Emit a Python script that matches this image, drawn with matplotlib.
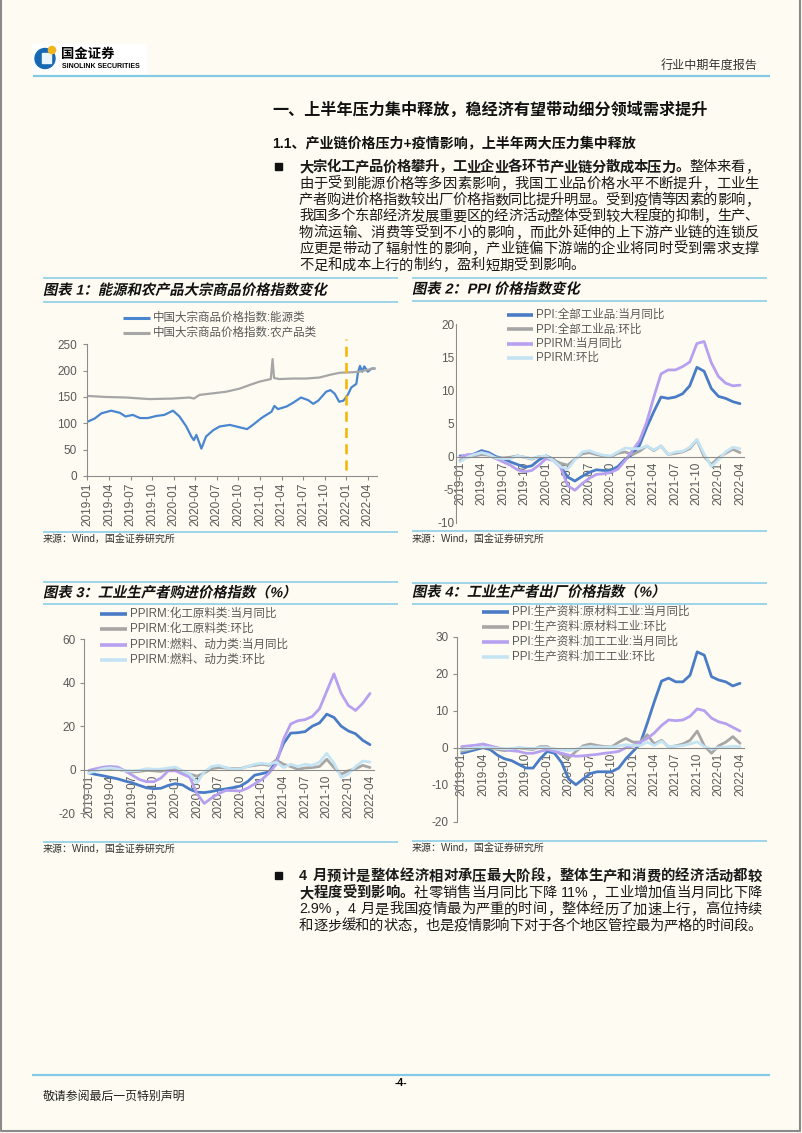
import matplotlib
matplotlib.use('Agg')
import numpy as np
import matplotlib.pyplot as plt
import matplotlib.patheffects as pe
from matplotlib.transforms import Affine2D
from matplotlib.patches import Rectangle, Circle

plt.rcParams['font.family'] = ['Liberation Sans', 'Noto Sans CJK SC', 'DejaVu Sans']
plt.rcParams['axes.unicode_minus'] = False

W, H = 802, 1133
PAGE = '#fefcf2'
RULE = '#84c9e6'
TICK = '#595959'
C_BLUE = '#4a7cc6'
C_GRAY = '#a6a6a6'
C_PURPLE = '#b7a0ef'
C_LBLUE = '#c4e4f4'
C_ORANGE = '#f4b400'

# ---------------- data ----------------
quarter_ticks = list(range(0, 40, 3))
quarter_labels = ['2019-01', '2019-04', '2019-07', '2019-10', '2020-01', '2020-04', '2020-07',
                  '2020-10', '2021-01', '2021-04', '2021-07', '2021-10', '2022-01', '2022-04']

# chart 1, x = months since 2019-01
energy_t = [0, 1.0, 1.95, 3.3, 4.5, 5.3, 6.3, 7.3, 8.4, 9.6, 10.7, 11.9, 12.8, 13.75, 14.45,
            14.8, 15.15, 15.85, 16.5, 17.5, 18.4, 19.8, 20.7, 21.6, 22.2, 23.1, 24.2, 25.0, 25.6,
            26.0, 26.5, 27.7, 28.6, 29.7, 30.7, 31.4, 32.1, 33.2, 33.8, 34.4, 35.0, 35.6, 36.2,
            36.7, 37.4, 37.6, 37.9, 38.2, 38.5, 39.0, 39.5, 39.9]
energy_v = [103, 109, 119, 124, 120, 113, 116, 110, 110, 114, 116, 124, 113, 94, 75,
            68, 78, 52, 75, 87, 94, 97, 94, 91, 89, 98, 110, 117, 122,
            133, 127, 132, 139, 149, 144, 137, 143, 160, 163, 156, 141, 143, 154,
            168, 175, 195, 209, 198, 208, 198, 204, 204]
agri_t = [0, 2.6, 5.4, 8.6, 11.9, 14.2, 14.8, 15.6, 17.5, 19.3, 21.2, 22.6, 23.9, 25.5, 25.75,
          25.95, 26.7, 28.6, 30.4, 32.3, 33.7, 35.1, 36.9, 37.8, 38.8, 39.9]
agri_v = [152, 150, 149, 146, 147, 149, 147, 154, 157, 160, 166, 173, 179, 184, 222,
          186, 184, 185, 185, 187, 192, 196, 197, 198, 201, 204]
cut_month = 36
cut_span = [11, 261]

months = np.arange(40)

# chart 2
ppi_yoy = [0.1, 0.1, 0.4, 0.9, 0.6, 0.0, -0.3, -0.8, -1.2, -1.6, -1.4, -0.5,
           0.1, -0.4, -1.5, -3.1, -3.7, -3.0, -2.4, -2.0, -2.1, -2.1, -1.5, -0.4,
           0.3, 1.7, 4.4, 6.8, 9.0, 8.8, 9.0, 9.5, 10.7, 13.5, 12.9, 10.3,
           9.1, 8.8, 8.3, 8.0]
ppi_mom = [-0.6, -0.1, 0.1, 0.3, 0.2, -0.3, -0.2, -0.1, 0.1, -0.1, -0.4, 0.0,
           0.0, -0.5, -1.0, -1.3, -0.4, 0.4, 0.6, 0.3, 0.1, 0.0, 0.5, 0.7,
           0.3, 0.8, 1.6, 0.9, 1.6, 0.3, 0.5, 0.7, 1.2, 2.5, 0.0, -1.2,
           -0.2, 0.5, 1.1, 0.6]
ppirm_yoy = [-0.1, 0.3, 0.3, 0.6, 0.4, -0.3, -0.8, -1.3, -2.0, -2.3, -2.1, -1.3,
             -0.3, -0.6, -1.6, -4.4, -5.1, -4.1, -3.3, -2.7, -2.6, -2.4, -1.9, -0.6,
             0.9, 2.4, 5.2, 9.0, 12.5, 13.1, 13.1, 13.6, 14.3, 17.1, 17.4, 14.2,
             12.1, 11.1, 10.7, 10.8]
ppirm_mom = [-0.8, -0.1, 0.3, 0.6, 0.3, -0.2, -0.3, -0.3, 0.1, -0.1, -0.3, 0.0,
             0.1, -0.6, -1.5, -1.9, -0.5, 0.7, 0.9, 0.5, 0.2, 0.1, 0.7, 1.3,
             1.2, 1.2, 1.6, 1.0, 1.6, 0.3, 0.7, 0.8, 1.4, 2.6, 0.4, -1.5,
             -0.5, 0.7, 1.4, 1.2]

# chart 3
chem_yoy = [-1.5, -2.2, -2.8, -3.5, -4.2, -5.2, -6.0, -7.2, -8.3, -8.7, -8.5, -7.2,
            -6.4, -7.0, -9.0, -10.3, -10.5, -10.0, -9.3, -8.8, -8.2, -7.5, -5.5, -2.5,
            -1.8, -1.0, 4.0, 12.0, 16.8, 17.0, 17.5, 20.0, 21.5, 25.5, 24.0, 20.0,
            17.8, 16.5, 13.5, 11.5]
chem_mom = [-0.5, -0.3, 0.3, 0.5, 0.2, -0.5, -1.0, -0.8, -0.3, -0.5, -0.8, 0.2,
            0.3, -1.0, -2.0, -3.0, -1.5, 0.5, 1.0, 0.8, 0.5, 0.5, 1.5, 2.0,
            2.5, 2.0, 4.5, 2.5, 1.5, 0.2, 0.8, 1.0, 1.5, 4.8, 1.0, -2.0,
            -0.5, 0.5, 2.0, 1.0]
fuel_yoy = [-0.3, 0.5, 1.2, 1.5, 1.2, -0.5, -2.5, -4.5, -5.5, -5.5, -3.8, -0.5,
            -0.5, -2.0, -3.5, -11.0, -15.5, -13.0, -11.0, -9.5, -9.6, -9.8, -8.5, -6.5,
            -4.5, -1.5, 2.5, 14.0, 21.0, 22.5, 23.0, 24.5, 28.0, 36.0, 44.0, 35.0,
            29.5, 27.2, 30.5, 35.0]
fuel_mom = [-1.5, -0.5, 0.5, 0.8, 0.3, -0.5, -0.5, -0.3, 0.5, 0.2, 0.3, 0.8,
            1.2, -0.5, -2.0, -6.0, -1.0, 1.5, 2.0, 1.0, 0.2, 0.3, 1.5, 2.5,
            3.0, 2.5, 3.5, 1.0, 2.5, 1.5, 2.5, 2.0, 3.5, 7.5, 3.0, -3.5,
            -2.0, 1.5, 4.0, 3.5]

# chart 4
raw_yoy = [-1.5, -1.0, -0.5, 0.0, -0.5, -2.0, -3.0, -3.5, -4.5, -5.5, -5.5, -3.0,
           -1.0, -1.5, -4.0, -8.5, -10.0, -8.5, -7.0, -6.5, -6.5, -6.5, -5.5, -3.0,
           -1.0, 1.0, 6.6, 12.5, 18.0, 18.8, 17.8, 17.8, 19.6, 25.9, 25.0, 19.2,
           18.3, 17.8, 16.7, 17.4]
raw_mom = [-1.0, -0.5, 0.0, 0.2, 0.0, -0.5, -0.8, -0.5, 0.0, -0.3, -0.5, 0.3,
           0.3, -0.8, -1.8, -2.8, -1.0, 0.5, 1.0, 0.6, 0.3, 0.2, 1.5, 2.5,
           1.5, 1.5, 3.5, 1.0, 2.0, 0.2, 0.5, 1.0, 2.0, 4.5, 0.5, -1.5,
           0.5, 1.5, 3.0, 1.2]
proc_yoy = [0.3, 0.5, 0.7, 1.0, 0.5, 0.0, -0.5, -0.8, -1.0, -1.5, -1.5, -1.0,
            -0.5, -1.0, -1.5, -2.0, -2.3, -2.2, -2.0, -1.8, -1.5, -1.3, -1.0, 0.0,
            0.5, 1.5, 2.5, 4.0, 6.0, 7.5, 7.3, 7.5, 8.5, 10.5, 10.0, 8.0,
            7.0, 6.5, 5.5, 4.5]
proc_mom = [-0.5, -0.3, 0.0, 0.1, 0.0, -0.2, -0.3, -0.2, 0.0, -0.1, -0.2, 0.0,
            0.0, -0.3, -0.6, -0.8, -0.4, 0.1, 0.3, 0.2, 0.1, 0.1, 0.5, 0.8,
            0.6, 0.6, 1.5, 0.6, 1.8, 0.3, 0.4, 0.6, 1.0, 1.6, 0.3, -0.4,
            0.0, 0.2, 0.4, 0.3]

# ---------------- page ----------------
fig = plt.figure(figsize=(W / 100, H / 100), dpi=100, facecolor=PAGE)
pg = fig.add_axes([0, 0, 1, 1])
pg.set_xlim(0, W)
pg.set_ylim(H, 0)
pg.axis('off')
renderer = fig.canvas.get_renderer()


class Slant(pe.AbstractPathEffect):
    # fake italic for CJK bold titles
    def draw_path(self, renderer, gc, tpath, affine, rgbFace=None):
        renderer.draw_path(gc, tpath, Affine2D().skew_deg(12, 0) + affine, rgbFace)


def rule(x0, x1, y, color=RULE, lw=1.1):
    pg.plot([x0, x1], [y, y], color=color, lw=lw, solid_capstyle='butt')


def para_line(x0, x1, y, segs, size=10.3, justify=True):
    em = size * 100 / 72
    toks = []
    for s, bold in segs:
        run = ''
        for ch in s:
            if ord(ch) < 128:
                run += ch
            else:
                if run:
                    toks.append((run, bold))
                    run = ''
                toks.append((ch, bold))
        if run:
            toks.append((run, bold))
    yb = y + 0.38 * em
    arts, widths = [], []
    for t, b in toks:
        a = pg.text(0, yb, t.strip(), fontsize=size, fontweight='bold' if b else 'normal',
                    va='baseline', ha='left', color='#1a1a1a')
        if ord(t[0]) >= 128:
            w = em  # full-width glyph advance
        else:
            w = a.get_window_extent(renderer).width + 0.1 * em
            lead = len(t) - len(t.lstrip())
            trail = len(t) - len(t.rstrip())
            w += 0.28 * em * (lead + trail)
            a._lead = 0.28 * em * lead
        arts.append(a)
        widths.append(w)
    gap = (x1 - x0 - sum(widths)) / (len(arts) - 1) if justify else 0
    x = x0
    for a, w in zip(arts, widths):
        a.set_x(x + getattr(a, '_lead', 0))
        x += w + gap


# page border
pg.plot([1, 1, W - 2, W - 2], [0, H - 2, H - 2, 0], color='#8a8a8a', lw=1.5)

# logo + header
pg.add_patch(Rectangle((32, 44), 114, 30, color='white', zorder=2))
pg.add_patch(Circle((45, 58.5), 10, color='#1768b3', zorder=3))
pg.add_patch(Rectangle((42, 53), 9, 10, color='#e9f4fb', zorder=4))
pg.add_patch(Circle((52, 50), 3.6, color='#f2b51c', zorder=5))
pg.text(61, 55, '国金证券', fontsize=9.6, fontweight='bold', va='center', zorder=6)
pg.text(62, 67, 'SINOLINK SECURITIES', fontsize=5.0, fontweight='bold', va='center', zorder=6)
pg.text(758, 66, '行业中期年度报告', fontsize=8.7, ha='right', va='center', color='#333333')
rule(33, 770, 76, lw=1.6)

# headings
pg.text(272, 110, '一、上半年压力集中释放，稳经济有望带动细分领域需求提升', fontsize=11.6,
        fontweight='bold', va='center', color='#111111')
pg.text(272, 144, '1.1、产业链价格压力+疫情影响，上半年两大压力集中释放', fontsize=10.1,
        fontweight='bold', va='center', color='#111111')

# paragraph 1
pg.add_patch(Rectangle((275, 162.5), 7, 7, color='#111111'))
p1 = [
    [('大宗化工产品价格攀升，工业企业各环节产业链分散成本压力。', True), ('整体来看，', False)],
    [('由于受到能源价格等多因素影响，我国工业品价格水平不断提升，工业生', False)],
    [('产者购进价格指数较出厂价格指数同比提升明显。受到疫情等因素的影响，', False)],
    [('我国多个东部经济发展重要区的经济活动整体受到较大程度的抑制，生产、', False)],
    [('物流运输、消费等受到不小的影响，而此外延伸的上下游产业链的连锁反', False)],
    [('应更是带动了辐射性的影响，产业链偏下游端的企业将同时受到需求支撑', False)],
    [('不足和成本上行的制约，盈利短期受到影响。', False)],
]
for i, segs in enumerate(p1):
    para_line(299, 759, 166 + i * 16.33, segs, justify=i < len(p1) - 1)

# paragraph 2
pg.add_patch(Rectangle((275, 871.5), 7, 7, color='#111111'))
p2 = [
    [('4 月预计是整体经济相对承压最大阶段，整体生产和消费的经济活动都较', True)],
    [('大程度受到影响。', True), ('社零销售当月同比下降 11%，工业增加值当月同比下降', False)],
    [('2.9%，4 月是我国疫情最为严重的时间，整体经历了加速上行，高位持续', False)],
    [('和逐步缓和的状态，也是疫情影响下对于各个地区管控最为严格的时间段。', False)],
]
for i, segs in enumerate(p2):
    para_line(299, 762, 875 + i * 16.5, segs)

# footer
rule(32, 770, 1075, lw=1.6)
pg.text(401, 1083, '-4-', fontsize=7.5, fontweight='bold', ha='center', va='center')
pg.text(43, 1097, '敬请参阅最后一页特别声明', fontsize=8.6, va='center', color='#222222')

# chart frames
for x0, x1, ytop, ytitle, ybot, ysrc, title in [
        (43, 398, 278, 301.5, 531.5, 540, '图表 1：能源和农产品大宗商品价格指数变化'),
        (412, 767, 278, 300.5, 530.5, 540, '图表 2：PPI 价格指数变化'),
        (43, 398, 582, 604, 841.5, 849.5, '图表 3：工业生产者购进价格指数（%）'),
        (412, 767, 582.5, 603.5, 840.5, 848.5, '图表 4：工业生产者出厂价格指数（%）')]:
    rule(x0, x1, ytop)
    rule(x0, x1, ytitle)
    rule(x0, x1, ybot)
    pg.text(x0, ytitle - 11, title, fontsize=10.3, fontweight='bold', va='center',
            color='#111111', path_effects=[Slant()])
    pg.text(x0, ysrc, '来源：Wind，国金证券研究所', fontsize=7.2, va='center', color='#333333')


def chart(x0, x1, y0, y1, xlim, ylim, yticks, ypad, ylen, zero_axis=True):
    ax = fig.add_axes([x0 / W, 1 - y1 / H, (x1 - x0) / W, (y1 - y0) / H])
    ax.set_facecolor('none')
    ax.set_xlim(*xlim)
    ax.set_ylim(*ylim)
    for s in ['top', 'right']:
        ax.spines[s].set_visible(False)
    for s in ['left', 'bottom']:
        ax.spines[s].set_color('#8c8c8c')
        ax.spines[s].set_linewidth(0.8)
    if zero_axis:
        ax.spines['bottom'].set_position(('data', 0))
    ax.set_yticks(yticks)
    ax.set_xticks(quarter_ticks, quarter_labels, rotation=90)
    ax.tick_params(axis='y', labelsize=8.5, labelcolor=TICK, color='#8c8c8c',
                   length=ylen, pad=ypad, width=0.8)
    ax.tick_params(axis='x', labelsize=8.5, labelcolor=TICK, color='#8c8c8c',
                   length=3 if not zero_axis else 0, pad=1.5 if not zero_axis else 3.5, width=0.8)
    return ax


def legend(x0, x1, ys, lines, labels):
    for y, ln, lab in zip(ys, lines, labels):
        pg.plot([x0, x1], [y, y], color=ln.get_color(), lw=ln.get_linewidth() + 0.6,
                solid_capstyle='butt')
        pg.text(x1 + 3, y, lab, fontsize=8.3, va='center', color=TICK)


# chart 1
ax1 = chart(86.7, 376.5, 344.3, 476, (-0.1, 40.2), (0, 250), range(0, 251, 50), 4, 3,
            zero_axis=False)
l1, = ax1.plot(energy_t, energy_v, color='#4a86d0', lw=1.6, solid_joinstyle='round')
l2, = ax1.plot(agri_t, agri_v, color=C_GRAY, lw=1.6, solid_joinstyle='round')
ax1.plot([cut_month, cut_month], cut_span, color=C_ORANGE, lw=1.8, ls=(0, (4, 2.5)),
         clip_on=False)
legend(123, 150, [318, 333], [l1, l2],
       ['中国大宗商品价格指数:能源类', '中国大宗商品价格指数:农产品类'])

# chart 2
ax2 = chart(455.7, 744.3, 324.3, 522.7, (-0.6, 39.6), (-10, 20), range(-10, 21, 5), 1, 0)
kw = dict(lw=2.0, solid_joinstyle='round', solid_capstyle='round')
a, = ax2.plot(months, ppi_yoy, color=C_BLUE, **kw)
b, = ax2.plot(months, ppi_mom, color=C_GRAY, **kw)
c, = ax2.plot(months, ppirm_yoy, color=C_PURPLE, **kw)
d, = ax2.plot(months, ppirm_mom, color=C_LBLUE, **kw)
legend(507, 533, [315, 329.3, 343.6, 357.9], [a, b, c, d],
       ['PPI:全部工业品:当月同比', 'PPI:全部工业品:环比', 'PPIRM:当月同比', 'PPIRM:环比'])

# chart 3
ax3 = chart(84.3, 374.3, 639, 813.3, (-0.65, 39.6), (-20, 60), range(-20, 61, 20), 3, 3)
a, = ax3.plot(months, chem_yoy, color=C_BLUE, **kw)
b, = ax3.plot(months, chem_mom, color=C_GRAY, **kw)
c, = ax3.plot(months, fuel_yoy, color=C_PURPLE, **kw)
d, = ax3.plot(months, fuel_mom, color=C_LBLUE, **kw)
legend(100, 127, [613.5, 629, 644.5, 660], [a, b, c, d],
       ['PPIRM:化工原料类:当月同比', 'PPIRM:化工原料类:环比',
        'PPIRM:燃料、动力类:当月同比', 'PPIRM:燃料、动力类:环比'])

# chart 4
ax4 = chart(456.7, 744.3, 636.7, 821.7, (-0.7, 39.6), (-20, 30), range(-20, 31, 10), 3, 3)
a, = ax4.plot(months, raw_yoy, color=C_BLUE, **kw)
b, = ax4.plot(months, raw_mom, color=C_GRAY, **kw)
c, = ax4.plot(months, proc_yoy, color=C_PURPLE, **kw)
d, = ax4.plot(months, proc_mom, color=C_LBLUE, **kw)
legend(482, 509, [612, 627, 642, 657], [a, b, c, d],
       ['PPI:生产资料:原材料工业:当月同比', 'PPI:生产资料:原材料工业:环比',
        'PPI:生产资料:加工工业:当月同比', 'PPI:生产资料:加工工业:环比'])

fig.savefig('out.png', dpi=100, facecolor=PAGE)
